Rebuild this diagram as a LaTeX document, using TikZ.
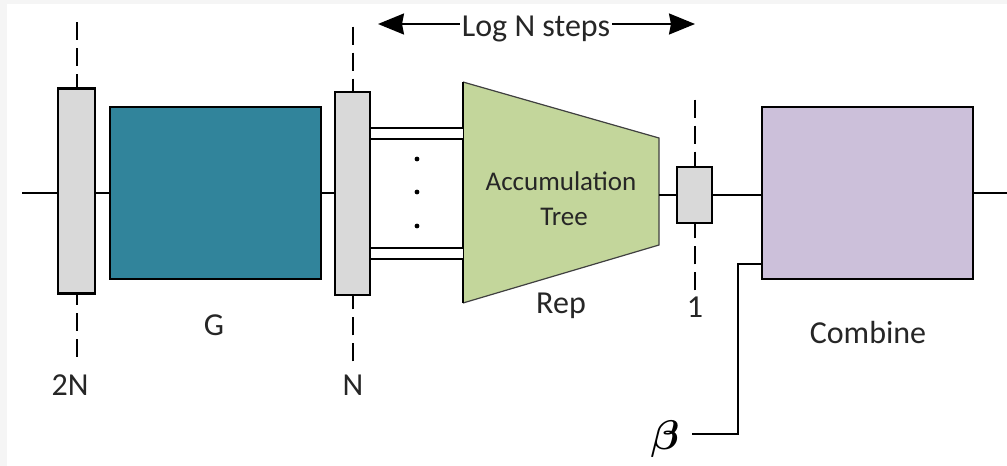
\documentclass[tikz,border=0pt]{standalone}
\usepackage{amsmath}
\usepackage{fontspec}
\setmainfont{Carlito}
\usetikzlibrary{arrows.meta}
\definecolor{regGray}{HTML}{D9D9D9}
\definecolor{gTeal}{HTML}{31849B}
\definecolor{treeGreen}{HTML}{C3D69B}
\definecolor{combLilac}{HTML}{CCC0DA}
\begin{document}
\begin{tikzpicture}[x=.5pt,y=-.5pt,line width=1pt,
  reg/.style={draw,fill=regGray,line width=1.3pt,inner sep=0pt},
  blk/.style={draw,line width=1.3pt,inner sep=0pt},
  lbl/.style={anchor=base,inner sep=.5pt,font=\fontsize{16}{19}\selectfont,text=black!85},
  cut/.style={dash pattern=on 9pt off 4pt},
  bus/.style={double,double distance=4.5pt}]
  \fill[gray!8] (0,0) rectangle (1007,466);
  \fill[white] (7,4) rectangle (1007,466);
  \useasboundingbox (0,0) rectangle (1007,466);
  % registers and blocks
  \node[reg,minimum width=18.5pt,minimum height=102.5pt] (r2N) at (76.5,191) {};
  \node[blk,fill=gTeal,minimum width=105.5pt,minimum height=86pt] (g) at (215.5,193) {};
  \node[reg,minimum width=17.5pt,minimum height=101.5pt] (rN) at (352.5,193.5) {};
  \node[reg,minimum width=17.5pt,minimum height=28pt] (r1) at (694.5,195) {};
  \node[blk,fill=combLilac,minimum width=105.5pt,minimum height=86pt] (comb) at (867.5,193) {};
  % accumulation tree
  \coordinate (tl) at (463,82);
  \coordinate (bl) at (463,303);
  \coordinate (tr) at (659,138);
  \coordinate (br) at (659,245);
  \fill[treeGreen] (tl)--(tr)--(br)--(bl)--cycle;
  \draw[line width=.6pt,black!75] (tl)--(tr)--(br)--(bl);
  \draw[line width=1.3pt] (bl)--(tl);
  \node[lbl,font=\fontsize{13.5}{16}\selectfont] (acc) at (561,190) {Accumulation};
  \node[lbl,font=\fontsize{13.5}{16}\selectfont] (tree) at (564,225) {Tree};
  % wires
  \coordinate (in) at (22,193);
  \coordinate (tout) at (659,195);
  \coordinate (out) at (1007,193);
  \draw (in) -- (in -| r2N.west);
  \draw (g.west -| r2N.east) -- (g.west);
  \draw (g.east) -- (g.east -| rN.west);
  \draw[bus] (rN.east |- 0,133.5) -- (tl |- 0,133.5);
  \draw[bus] (rN.east |- 0,253.5) -- (tl |- 0,253.5);
  \foreach \y in {159,192,226}
    \fill (417,\y) circle (1.2pt);
  \draw (tout) -- (r1.west);
  \draw (r1.east) -- (r1.east -| comb.west);
  \draw (comb.east) -- (out);
  % beta input
  \node[font=\fontsize{20}{24}\selectfont,inner sep=0pt] (beta) at (665,439) {$\boldsymbol{\beta}$};
  \coordinate (bk) at (738,434);
  \draw (beta.east |- bk) ++(12,0) -- (bk) |- (comb.west |- 0,264);
  % dashed cuts
  \draw[cut] (r2N.north) ++(0,-65) -- (r2N.north);
  \draw[cut] (r2N.south) ++(0,62) -- (r2N.south);
  \draw[cut] (rN.north) ++(0,-64) -- (rN.north);
  \draw[cut] (rN.south) ++(0,65) -- (rN.south);
  \draw[cut] (r1.north) ++(0,-66) -- (r1.north);
  \draw[cut] (r1.south) ++(0,66) -- (r1.south);
  % labels
  \node[lbl] (l2N) at (70,395) {2N};
  \node[lbl] (lG) at (214,335) {G};
  \node[lbl] (lN) at (353,395) {N};
  \node[lbl] (lRep) at (561,313) {Rep};
  \node[lbl] (l1) at (695,317) {1};
  \node[lbl] (lComb) at (868,343) {Combine};
  % log N steps
  \node[lbl] (steps) at (536,36) {Log N steps};
  \coordinate (sl) at (378,24);
  \coordinate (sr) at (695,24);
  \draw[-{Stealth[length=13pt,width=10.5pt,inset=1pt]}] (steps.west |- sl) -- (sl);
  \draw[-{Stealth[length=13pt,width=10.5pt,inset=1pt]}] (steps.east |- sr) -- (sr);
\end{tikzpicture}
\end{document}
